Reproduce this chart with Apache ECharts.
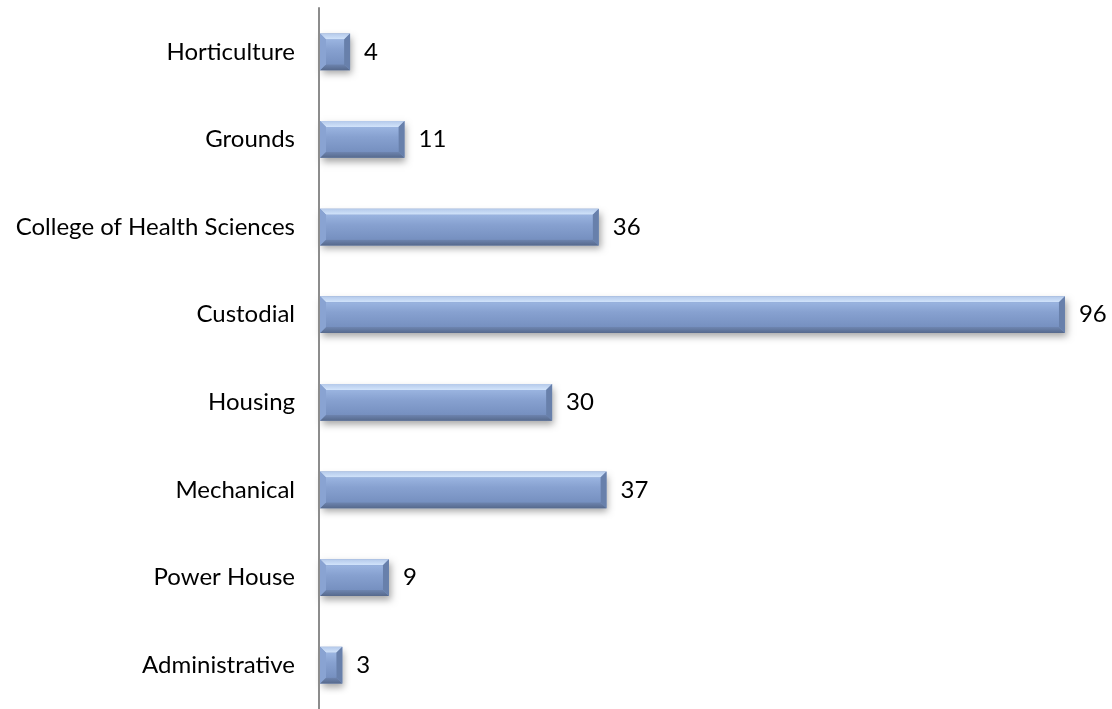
<!DOCTYPE html>
<html><head><meta charset="utf-8">
<script src="https://cdn.jsdelivr.net/npm/echarts@6/dist/echarts.min.js"></script>
<style>html,body{margin:0;padding:0;background:#fff}#c{width:1112px;height:709px}</style>
</head><body><div id="c"></div>
<script>
const categories = ["Administrative","Power House","Mechanical","Housing","Custodial","College of Health Sciences","Grounds","Horticulture"];
const values = [3,9,37,30,96,36,11,4];
const chart = echarts.init(document.getElementById('c'));
function renderBar(params, api){
  const v = api.value(0), ci = api.value(1);
  const p0 = api.coord([0, ci]), p1 = api.coord([v, ci]);
  const band = api.size([0,1])[1];
  const h = band*0.42;
  const x0 = p0[0]+1, x1 = p1[0], y0 = p0[1]-h/2, y1 = p0[1]+h/2;
  const b = Math.min(6, (x1-x0)/3);
  const poly = (pts, fill)=>({type:'polygon',shape:{points:pts},style:{fill:fill}});
  return {type:'group',children:[
    {type:'rect',shape:{x:x0,y:y0,width:x1-x0,height:h},
      style:{fill:'#7a94c3',shadowColor:'rgba(0,0,0,0.35)',shadowBlur:7,shadowOffsetX:2,shadowOffsetY:4}},
    poly([[x0,y0],[x1,y0],[x1-b,y0+b],[x0+b,y0+b]], new echarts.graphic.LinearGradient(0,0,0,1,[{offset:0,color:'#b4c9ea'},{offset:1,color:'#d2e4fb'}])),
    poly([[x0,y1],[x1,y1],[x1-b,y1-b],[x0+b,y1-b]], new echarts.graphic.LinearGradient(0,0,0,1,[{offset:0,color:'#6e85b0'},{offset:1,color:'#56698c'}])),
    poly([[x0,y0],[x0+b,y0+b],[x0+b,y1-b],[x0,y1]], '#89a3d2'),
    poly([[x1,y0],[x1-b,y0+b],[x1-b,y1-b],[x1,y1]], '#6880ab'),
    {type:'rect',shape:{x:x0+b,y:y0+b,width:Math.max(0,x1-x0-2*b),height:h-2*b},
      style:{fill:new echarts.graphic.LinearGradient(0,0,0,1,[{offset:0,color:'#9ab4e0'},{offset:0.4,color:'#87a1d0'},{offset:1,color:'#7690c0'}])}},
    {type:'text',x:x1+14,y:p0[1],style:{text:String(v),fontFamily:'Lato',fontSize:24,fill:'#000',verticalAlign:'middle',align:'left'}}
  ]};
}
chart.setOption({
  animation:false,
  grid:{left:319,right:16,top:8,bottom:-5,containLabel:false},
  xAxis:{type:'value',min:0,max:100,show:false},
  yAxis:{type:'category',data:categories,z:10,
    axisLine:{show:true,lineStyle:{color:'#8c8c8c',width:2}},
    axisTick:{show:false},
    axisLabel:{fontFamily:'Lato',fontSize:24,color:'#000',margin:24}},
  series:[{type:'custom',renderItem:renderBar,encode:{x:0,y:1},
    data:values.map((v,i)=>[v,i])}]
});
</script></body></html>
